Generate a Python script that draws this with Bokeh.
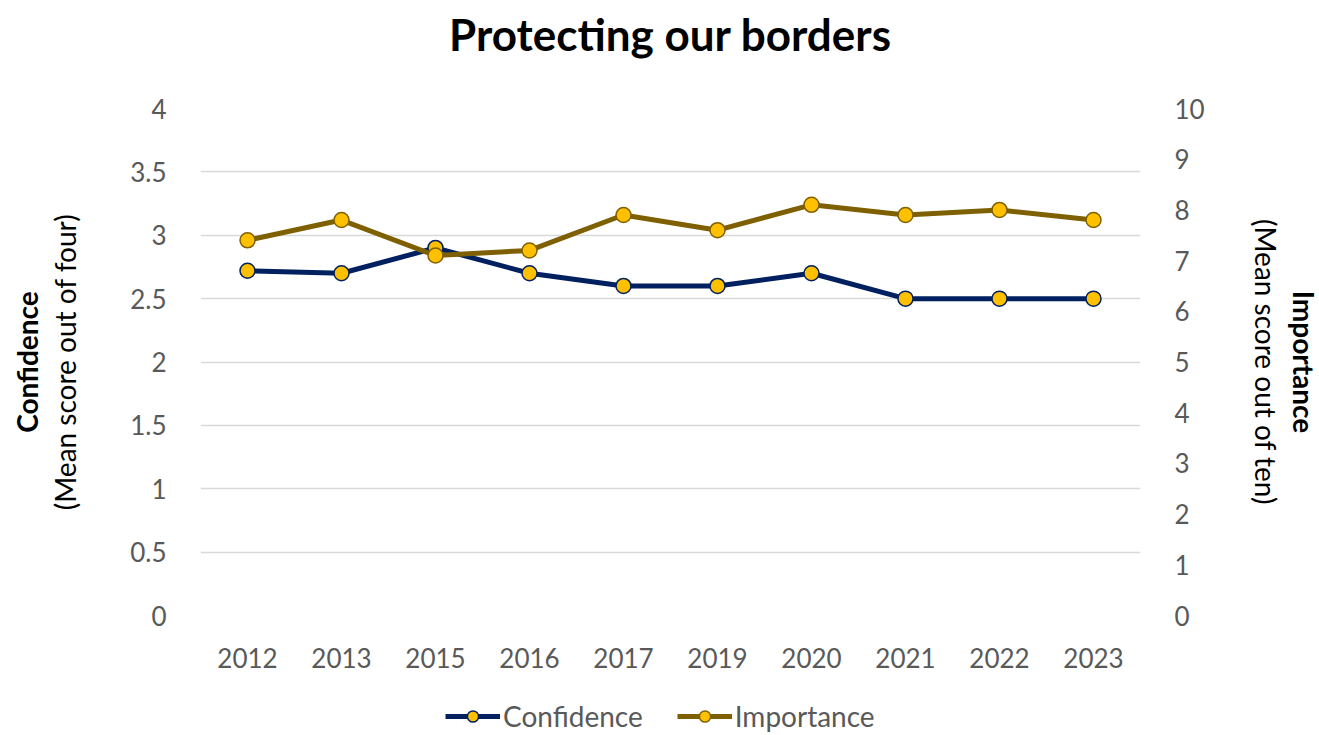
from bokeh.plotting import figure
from bokeh.layouts import column
from bokeh.models import Range1d, LinearAxis, FactorRange, Title, Legend, LegendItem, SingleIntervalTicker
from bokeh.embed import file_html
from bokeh.resources import INLINE

years = ["2012", "2013", "2015", "2016", "2017", "2019", "2020", "2021", "2022", "2023"]
confidence = [2.72, 2.70, 2.90, 2.70, 2.60, 2.60, 2.70, 2.50, 2.50, 2.50]
importance = [7.4, 7.8, 7.1, 7.2, 7.9, 7.6, 8.1, 7.9, 8.0, 7.8]

FONT = "Lato"
GREY = "#595959"
NAVY = "#002060"
OLIVE = "#7F6000"
GOLD = "#FFC000"

p = figure(frame_width=940, frame_height=507, x_range=FactorRange(*years), y_range=Range1d(0, 4),
           output_backend="svg", toolbar_location=None,
           min_border_left=200, min_border_right=178, min_border_top=108, min_border_bottom=62)
p.outline_line_color = None
p.extra_y_ranges = {"imp": Range1d(0, 10)}

# spacer between title and plot area
p.add_layout(Title(text=" ", text_font_size="29px"), "above")
title = Title(text="Protecting our borders", align="center", text_font=FONT,
              text_font_size="44px", text_font_style="bold", text_color="#000000")
p.add_layout(title, "above")

# left axis
ya = p.yaxis[0]
ya.ticker = SingleIntervalTicker(interval=0.5)
ya.axis_label = "(Mean score out of four)"
ya.axis_label_text_font = FONT
ya.axis_label_text_font_size = "28px"
ya.axis_label_text_font_style = "normal"
ya.axis_label_text_color = "#000000"
ya.axis_label_standoff = 45

# right axis
ra = LinearAxis(y_range_name="imp", ticker=SingleIntervalTicker(interval=1))
ra.axis_label = "(Mean score out of ten)"
ra.axis_label_text_font = FONT
ra.axis_label_text_font_size = "28px"
ra.axis_label_text_font_style = "normal"
ra.axis_label_text_color = "#000000"
ra.axis_label_standoff = 41
p.add_layout(ra, "right")

for ax in [ya, ra, p.xaxis[0]]:
    ax.axis_line_color = None
    ax.major_tick_line_color = None
    ax.minor_tick_line_color = None
    ax.major_label_text_font = FONT
    ax.major_label_text_font_size = "26px"
    ax.major_label_text_color = GREY
ya.major_label_standoff = 28
ra.major_label_standoff = 28
p.xaxis[0].major_label_standoff = 26

p.add_layout(Title(text="Confidence", align="center", text_font=FONT, text_font_size="28px",
                   text_font_style="bold", text_color="#000000", standoff=4), "left")
p.add_layout(Title(text="Importance", align="center", text_font=FONT, text_font_size="28px",
                   text_font_style="bold", text_color="#000000", standoff=2), "right")

p.xgrid.grid_line_color = None
p.ygrid.grid_line_color = "#D9D9D9"
p.ygrid.grid_line_width = 1.5

p.line(years, confidence, line_color=NAVY, line_width=5)
p.scatter(years, confidence, size=15, fill_color=GOLD, line_color=NAVY, line_width=1.5)
p.line(years, importance, y_range_name="imp", line_color=OLIVE, line_width=5)
p.scatter(years, importance, y_range_name="imp", size=15, fill_color=GOLD, line_color=OLIVE, line_width=1.5)

# legend strip below the chart (same series, off-range renderers used only as legend glyphs)
lf = figure(width=1318, height=58, x_range=FactorRange(*years), y_range=Range1d(-100, -99),
            output_backend="svg", toolbar_location=None, min_border=0,
            x_axis_location=None, y_axis_location=None)
lf.outline_line_color = None
lf.grid.grid_line_color = None
l1 = lf.line(years, confidence, line_color=NAVY, line_width=5)
c1 = lf.scatter(years, confidence, size=15, fill_color=GOLD, line_color=NAVY, line_width=1.5)
l2 = lf.line(years, importance, line_color=OLIVE, line_width=5)
c2 = lf.scatter(years, importance, size=15, fill_color=GOLD, line_color=OLIVE, line_width=1.5)

legend = Legend(items=[LegendItem(label="Confidence", renderers=[l1, c1]),
                       LegendItem(label="Importance", renderers=[l2, c2])],
                orientation="horizontal", location=(245, 2),
                label_text_font=FONT, label_text_font_size="28px", label_text_color=GREY,
                glyph_width=55, glyph_height=28, border_line_color=None, background_fill_alpha=0,
                margin=0, padding=0, spacing=34, label_standoff=3)
lf.add_layout(legend, "center")

open("out.html", "w").write(file_html(column(p, lf), INLINE))
